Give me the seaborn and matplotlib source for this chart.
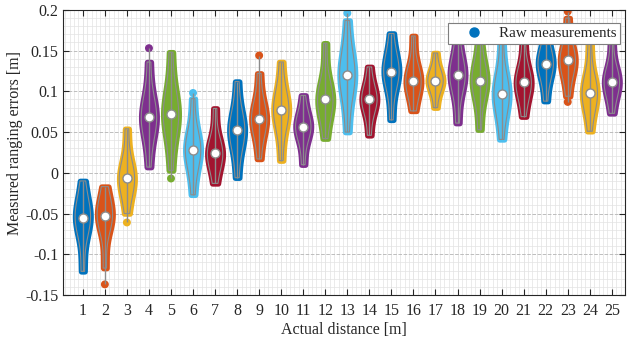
import numpy as np
import pandas as pd
import matplotlib
matplotlib.use("Agg")
import matplotlib.pyplot as plt
from matplotlib.lines import Line2D
from matplotlib.ticker import MultipleLocator
import seaborn as sns

# Values (metres)
distances = list(range(1, 26))
body_low = [-0.121, -0.117, -0.050, 0.007, 0.003, -0.027, -0.013, -0.006, 0.017, 0.015,
            0.010, 0.042, 0.050, 0.046, 0.065, 0.076, 0.080, 0.061, 0.053, 0.041,
            0.069, 0.088, 0.094, 0.051, 0.073]
body_q1 = [-0.068, -0.064, -0.018, 0.056, 0.057, 0.018, 0.014, 0.040, 0.055, 0.066,
           0.048, 0.080, 0.102, 0.080, 0.112, 0.103, 0.106, 0.108, 0.102, 0.083,
           0.100, 0.123, 0.127, 0.087, 0.102]
medians = [-0.055, -0.053, -0.007, 0.068, 0.072, 0.028, 0.024, 0.052, 0.066, 0.077,
           0.056, 0.090, 0.120, 0.090, 0.124, 0.113, 0.113, 0.120, 0.113, 0.097,
           0.111, 0.134, 0.138, 0.098, 0.112]
body_q3 = [-0.042, -0.041, 0.008, 0.081, 0.089, 0.041, 0.035, 0.065, 0.079, 0.089,
           0.066, 0.100, 0.140, 0.100, 0.137, 0.124, 0.121, 0.132, 0.125, 0.112,
           0.122, 0.146, 0.150, 0.111, 0.122]
body_high = [-0.010, -0.017, 0.054, 0.136, 0.148, 0.091, 0.079, 0.112, 0.122, 0.136,
             0.095, 0.159, 0.187, 0.130, 0.171, 0.168, 0.147, 0.170, 0.168, 0.165,
             0.165, 0.180, 0.190, 0.160, 0.165]
# isolated measurements outside the main body
outlier_dist = [2, 3, 4, 5, 6, 9, 13, 23, 23]
outlier_vals = [-0.137, -0.061, 0.153, -0.007, 0.098, 0.144, 0.196, 0.198, 0.087]

matlab_colors = ["#0072BD", "#D95319", "#EDB120", "#7E2F8E", "#77AC30", "#4DBEEE", "#A2142F"]
palette = [matlab_colors[i % 7] for i in range(len(distances))]

# long table for the violins, median weighted so the ends taper
rows = []
for d, lo, q1, md, q3, hi in zip(distances, body_low, body_q1, medians, body_q3, body_high):
    for v in (lo, q1, md, md, md, q3, hi):
        rows.append({"distance": d, "error": v})
df = pd.DataFrame(rows)

sns.set_style("ticks")
plt.rcParams["font.family"] = ["Liberation Serif", "DejaVu Serif"]

fig = plt.figure(figsize=(6.28, 3.41), dpi=100)
ax = fig.add_axes([0.1003, 0.135, 0.895, 0.836])

VW = 0.70
FS = 11.5

# coloured body (thick edge mimics the scattered raw points)
sns.violinplot(data=df, x="distance", y="error", hue="distance", palette=palette,
               native_scale=True, cut=0, inner=None, density_norm="width",
               width=VW, saturation=1, legend=False, ax=ax)
for coll in ax.collections:
    fc = coll.get_facecolor()
    coll.set_edgecolor(fc)
    coll.set_linewidth(4.0)
    coll.set_zorder(2)
n_body = len(ax.collections)

# grey outline of the density
sns.violinplot(data=df, x="distance", y="error", native_scale=True, cut=0,
               inner=None, density_norm="width", width=VW, fill=False,
               color="#8c8c8c", linewidth=0.8, ax=ax)
for coll in ax.collections[n_body:]:
    coll.set_zorder(3)

# outlier dots
out_colors = [palette[d - 1] for d in outlier_dist]
ax.scatter(outlier_dist, outlier_vals, s=22, c=out_colors, edgecolors=out_colors, zorder=2)

# whiskers through the full range
all_min = [min([lo] + [v for d2, v in zip(outlier_dist, outlier_vals) if d2 == d])
           for d, lo in zip(distances, body_low)]
all_max = [max([hi] + [v for d2, v in zip(outlier_dist, outlier_vals) if d2 == d])
           for d, hi in zip(distances, body_high)]
ax.vlines(distances, all_min, all_max, color="#8c8c8c", linewidth=1.0, zorder=3)

# median markers
ax.scatter(distances, medians, s=42, c="white", edgecolors="#8c8c8c", linewidths=1.0, zorder=4)

ax.set_xlim(0.1, 25.6)
ax.set_ylim(-0.15, 0.2)
ax.xaxis.set_minor_locator(MultipleLocator(0.2))
ax.yaxis.set_minor_locator(MultipleLocator(0.01))
ax.set_xticks(distances)
ax.set_xticklabels([str(d) for d in distances])
ax.set_yticks([-0.15, -0.1, -0.05, 0, 0.05, 0.1, 0.15, 0.2])
ax.set_yticklabels(["-0.15", "-0.1", "-0.05", "0", "0.05", "0.1", "0.15", "0.2"])

ax.grid(which="major", axis="y", color="#bdbdbd", linestyle="--", linewidth=0.7)
ax.grid(which="major", axis="x", color="#dcdcdc", linestyle="-", linewidth=0.5)
ax.grid(which="minor", color="#e3e3e3", linestyle="-", linewidth=0.5)
ax.set_axisbelow(True)

ax.tick_params(which="major", direction="in", top=True, right=True, length=4,
               labelsize=FS, color="#262626", labelcolor="#262626")
ax.tick_params(axis="x", which="major", pad=6)
ax.tick_params(which="minor", length=0)
for sp in ax.spines.values():
    sp.set_visible(True)
    sp.set_color("#262626")
    sp.set_linewidth(0.8)

ax.set_xlabel("Actual distance [m]", fontsize=FS, color="#262626", labelpad=2)
ax.set_ylabel("Measured ranging errors [m]", fontsize=FS, color="#262626")
ax.yaxis.set_label_coords(-0.071, 0.533)

handle = Line2D([], [], marker="o", linestyle="none", color="#0072BD", markersize=6.5)
leg = ax.legend([handle], ["Raw measurements"], loc="upper right",
                bbox_to_anchor=(0.991, 0.954), borderaxespad=0, fontsize=10.8,
                frameon=True, fancybox=False, framealpha=1, edgecolor="#7f7f7f",
                handlelength=3.0, handletextpad=0.15, borderpad=0.25)
leg.get_frame().set_linewidth(0.8)
leg.set_zorder(10)

fig.savefig("out.png", dpi=100)
